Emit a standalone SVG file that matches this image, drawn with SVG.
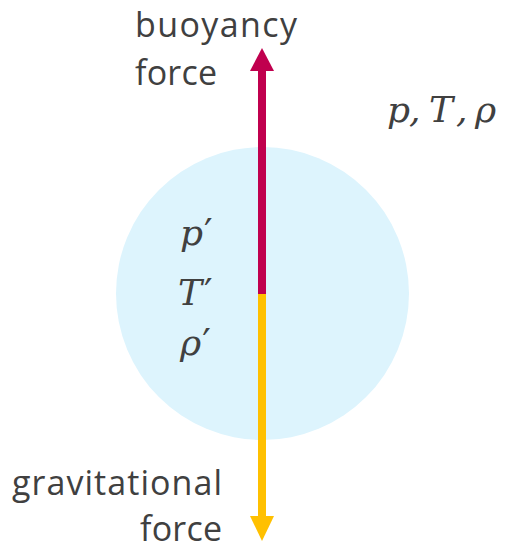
<svg xmlns="http://www.w3.org/2000/svg" width="506" height="550" viewBox="0 0 506 550">
<style>
.lbl{font-family:"Open Sans","Liberation Sans",sans-serif;font-size:34px;fill:#404040}
.m{font-family:"DejaVu Serif","Liberation Serif",serif;font-style:italic;font-size:36px;fill:#404040}
.pr{font-family:"DejaVu Sans",sans-serif;font-style:normal;font-size:38px}
</style>
<rect width="506" height="550" fill="#fff"/>
<g id="parcel">
<circle cx="262.5" cy="293.5" r="146.5" fill="#DDF4FD"/>
<text class="m" x="180" y="245">p<tspan class="pr" dx="1">′</tspan></text>
<text class="m" x="178" y="305">T<tspan class="pr" dx="2">′</tspan></text>
<text class="m" x="180" y="355">ρ<tspan class="pr" dx="1">′</tspan></text>
</g>
<g id="ambient">
<text class="m" x="387" y="122">p</text>
<text class="m" x="409" y="122">,</text>
<text class="m" x="429" y="122">T</text>
<text class="m" x="456" y="122">,</text>
<text class="m" x="475" y="122">ρ</text>
</g>
<g id="connectors">
<line x1="262" y1="294" x2="262" y2="70" stroke="#C0004E" stroke-width="8"/>
<polygon points="250,71 274,71 262,48" fill="#C0004E"/>
<line x1="262" y1="294" x2="262" y2="517" stroke="#FFC000" stroke-width="8"/>
<polygon points="250,516 274,516 262,541" fill="#FFC000"/>
</g>
<g id="buoyancy">
<text class="lbl" x="135" y="37" textLength="162">buoyancy</text>
<text class="lbl" x="135" y="85" textLength="82">force</text>
</g>
<g id="gravity">
<text class="lbl" x="12" y="495" textLength="210">gravitational</text>
<text class="lbl" x="140" y="541" textLength="82">force</text>
</g>
</svg>
